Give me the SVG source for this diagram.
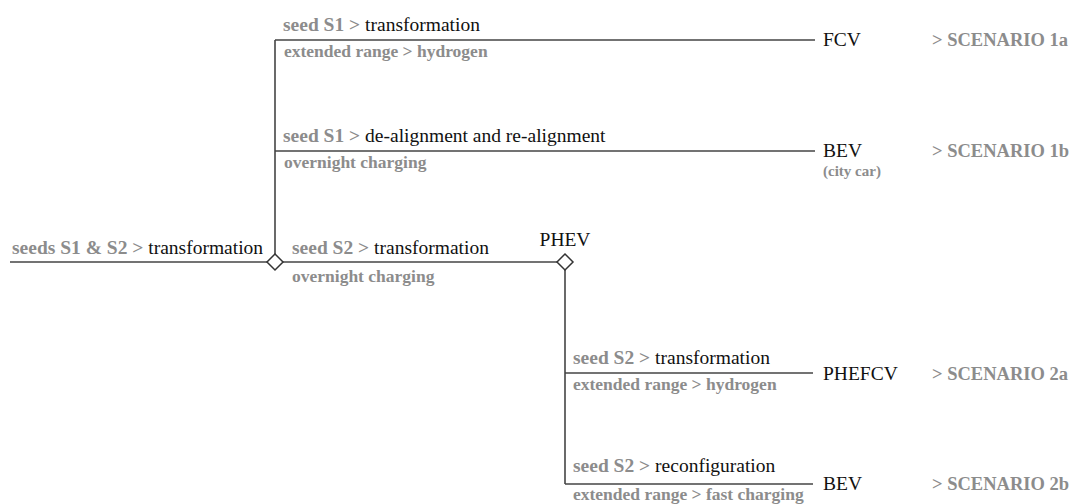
<svg xmlns="http://www.w3.org/2000/svg" width="1081" height="504" viewBox="0 0 1081 504">
<style>
text{font-family:"Liberation Serif","Times New Roman",serif}
.t{font-size:19.5px;fill:#111}
.g{font-weight:bold;fill:#8c8c8c}
.s{font-size:17.5px;font-weight:bold;fill:#8c8c8c}
.n{font-size:19.5px;fill:#111}
.sc{font-size:18.5px;font-weight:bold;fill:#8c8c8c}
.ln{stroke:#444;stroke-width:1.6;fill:none}
.dm{stroke:#333;stroke-width:1.5;fill:#fff}
</style>
<rect width="1081" height="504" fill="#fff"/>
<g id="connectors">
<line class="ln" x1="10" y1="262" x2="267" y2="262"/>
<line class="ln" x1="275" y1="40" x2="275" y2="254"/>
<line class="ln" x1="275" y1="40" x2="815" y2="40"/>
<line class="ln" x1="275" y1="151" x2="815" y2="151"/>
<line class="ln" x1="283" y1="262" x2="557" y2="262"/>
<line class="ln" x1="565" y1="270" x2="565" y2="484"/>
<line class="ln" x1="565" y1="373" x2="813" y2="373"/>
<line class="ln" x1="565" y1="484" x2="813" y2="484"/>
</g>
<g id="labels">
<text class="t" x="283" y="31"><tspan class="g">seed S1 &gt; </tspan>transformation</text>
<text class="s" x="284" y="57">extended range &gt; hydrogen</text>
<text class="t" x="283" y="142"><tspan class="g">seed S1 &gt; </tspan>de-alignment and re-alignment</text>
<text class="s" x="284" y="168">overnight charging</text>
<text class="t" x="12" y="254"><tspan class="g">seeds S1 &amp; S2 &gt; </tspan>transformation</text>
<text class="t" x="292" y="254"><tspan class="g">seed S2 &gt; </tspan>transformation</text>
<text class="s" x="292" y="282">overnight charging</text>
<text class="t" x="573" y="364"><tspan class="g">seed S2 &gt; </tspan>transformation</text>
<text class="s" x="573" y="390">extended range &gt; hydrogen</text>
<text class="t" x="573" y="472"><tspan class="g">seed S2 &gt; </tspan>reconfiguration</text>
<text class="s" x="573" y="500">extended range &gt; fast charging</text>
</g>
<g id="node-root"><polygon class="dm" points="275,254 283,262 275,270 267,262"/></g>
<g id="node-phev"><polygon class="dm" points="565,254 573,262 565,270 557,262"/><text class="n" x="565" y="246" text-anchor="middle">PHEV</text></g>
<g id="node-fcv"><text class="n" x="823" y="46">FCV</text><text class="sc" x="932" y="46">&gt; SCENARIO 1a</text></g>
<g id="node-bev1"><text class="n" x="823" y="157">BEV</text><text class="s" x="823" y="176" style="font-size:15px">(city car)</text><text class="sc" x="932" y="157">&gt; SCENARIO 1b</text></g>
<g id="node-phefcv"><text class="n" x="823" y="380">PHEFCV</text><text class="sc" x="932" y="380">&gt; SCENARIO 2a</text></g>
<g id="node-bev2"><text class="n" x="823" y="490">BEV</text><text class="sc" x="932" y="490">&gt; SCENARIO 2b</text></g>
</svg>
